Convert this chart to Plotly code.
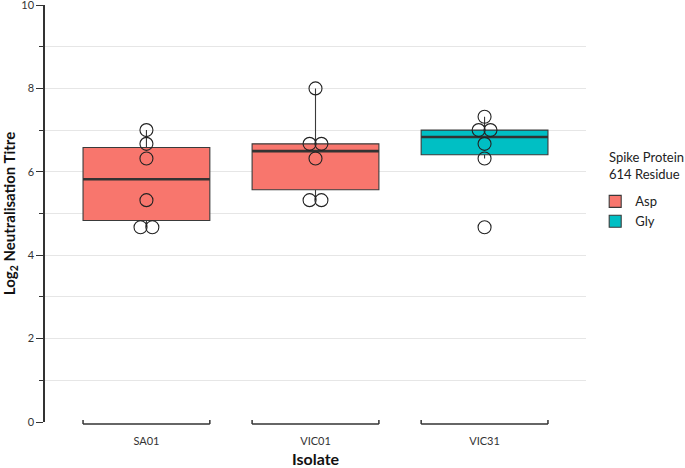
import numpy as np
import plotly.graph_objects as go

# ---------------- data ----------------
isolates = ["SA01", "VIC01", "VIC31"]
residue = ["Asp", "Asp", "Gly"]
titre_SA01 = [4.67, 4.67, 5.32, 6.32, 6.67, 7.00]
titre_VIC01 = [5.32, 5.32, 6.32, 6.67, 6.67, 8.00]
titre_VIC31 = [4.67, 6.32, 6.67, 7.00, 7.00, 7.32]
legend_groups = ["Asp", "Gly"]
group_colors = {"Asp": "#F8766D", "Gly": "#00BFC4"}
y_tick_vals = [0, 2, 4, 6, 8, 10]
legend_title = "Spike Protein<br>614 Residue"

titres = [titre_SA01, titre_VIC01, titre_VIC31]

# ---------------- style constants ----------------
BOX_W = 0.75
DOT_STEP = 0.07
FONT = "Lato"
LINE_COL = "#3a3a3a"


def box_stats(vals):
    v = np.sort(np.asarray(vals, dtype=float))
    q1, med, q3 = np.percentile(v, [25, 50, 75])
    iqr = q3 - q1
    lo = v[v >= q1 - 1.5 * iqr].min()
    hi = v[v <= q3 + 1.5 * iqr].max()
    return q1, med, q3, lo, hi


stats = [box_stats(t) for t in titres]

fig = go.Figure()

# boxes, one trace per residue group
for g in legend_groups:
    idx = [i for i, r in enumerate(residue) if r == g]
    fig.add_trace(go.Box(
        x=idx,
        q1=[stats[i][0] for i in idx],
        median=[stats[i][1] for i in idx],
        q3=[stats[i][2] for i in idx],
        lowerfence=[stats[i][3] for i in idx],
        upperfence=[stats[i][4] for i in idx],
        width=BOX_W,
        whiskerwidth=0,
        fillcolor=group_colors[g],
        line=dict(color=LINE_COL, width=1.1),
        name=g,
        hoverinfo="skip",
    ))

# thicker median lines
mx, my = [], []
for i, s in enumerate(stats):
    mx += [i - BOX_W / 2, i + BOX_W / 2, None]
    my += [s[1], s[1], None]
fig.add_trace(go.Scatter(x=mx, y=my, mode="lines",
                         line=dict(color="#333333", width=2.6),
                         showlegend=False, hoverinfo="skip"))

# points, duplicates stacked side by side
px, py = [], []
for i, t in enumerate(titres):
    uniq, counts = np.unique(t, return_counts=True)
    for u, c in zip(uniq, counts):
        for k in range(c):
            px.append(i + (k - (c - 1) / 2) * DOT_STEP)
            py.append(u)
fig.add_trace(go.Scatter(x=px, y=py, mode="markers",
                         marker=dict(symbol="circle-open", size=13,
                                     color="#222222", line=dict(width=1.1)),
                         showlegend=False, hoverinfo="skip"))

# bracket-style x axis guide
shapes = []
for i in range(len(isolates)):
    a, b = i - BOX_W / 2, i + BOX_W / 2
    shapes.append(dict(type="line", xref="x", yref="paper", x0=a, x1=b,
                       y0=-0.005, y1=-0.005, line=dict(color="#333", width=1.5)))
    for e in (a, b):
        shapes.append(dict(type="line", xref="x", yref="paper", x0=e, x1=e,
                           y0=-0.005, y1=0.005, line=dict(color="#333", width=1.5)))

fig.update_layout(
    width=685, height=468,
    margin=dict(l=45, r=99, t=5, b=46),
    paper_bgcolor="white", plot_bgcolor="white",
    boxmode="overlay",
    font=dict(family=FONT, color="#333333", size=11),
    shapes=shapes,
    annotations=[dict(text=legend_title, xref="paper", yref="paper",
                      x=1.0388, y=0.66, xanchor="left", yanchor="top",
                      align="left", showarrow=False,
                      font=dict(size=13, color="#222"))],
    legend=dict(
        font=dict(size=13, color="#222"),
        x=1.017, xanchor="left", y=0.565, yanchor="top",
        bgcolor="rgba(0,0,0,0)", tracegroupgap=0,
    ),
    xaxis=dict(
        range=[-0.6, len(isolates) - 0.4],
        tickmode="array", tickvals=list(range(len(isolates))), ticktext=isolates,
        ticks="outside", ticklen=9, tickcolor="rgba(0,0,0,0)",
        showgrid=False, zeroline=False, showline=False,
        tickfont=dict(size=11, color="#333"),
        title=dict(text="<b>Isolate</b>", font=dict(size=16, color="#111"), standoff=10),
        automargin=False,
    ),
    yaxis=dict(
        range=[0, 10],
        tickmode="array", tickvals=y_tick_vals,
        ticks="outside", ticklen=7, tickwidth=1.3, tickcolor="#333",
        ticklabeloverflow="allow",
        showline=True, linecolor="#333", linewidth=1.5,
        showgrid=True, gridcolor="#e6e6e6", gridwidth=1,
        minor=dict(dtick=1, tick0=0, showgrid=True, gridcolor="#e6e6e6",
                   ticks="outside", ticklen=4, tickcolor="#333"),
        zeroline=False,
        tickfont=dict(size=11, color="#333"),
        title=dict(text="<b>Log<sub>2</sub> Neutralisation Titre</b>",
                   font=dict(size=15, color="#111"), standoff=5),
        automargin=False,
    ),
)

fig.write_html("out.html", config={"displayModeBar": False},
               post_script="document.body.style.margin='0';document.body.style.padding='0';")
